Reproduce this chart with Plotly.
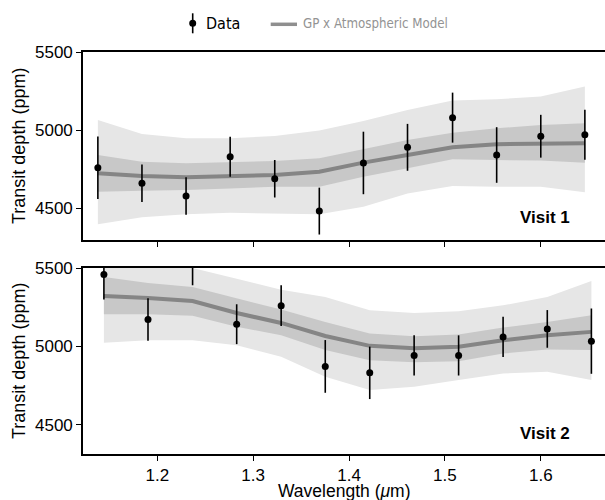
import plotly.graph_objects as go

# ---- Visit 1 data ----
wl1 = [1.138, 1.184, 1.230, 1.276, 1.3225, 1.369, 1.415, 1.461, 1.508, 1.554, 1.600, 1.646]
depth1 = [4760, 4660, 4578, 4830, 4689, 4482, 4790, 4890, 5080, 4841, 4961, 4971]
err1 = [200, 120, 120, 128, 120, 150, 200, 150, 160, 178, 137, 160]
model1 = [4724, 4706, 4698, 4704, 4713, 4734, 4792, 4841, 4890, 4910, 4916, 4916]
sig1_lo1 = [4606, 4612, 4617, 4627, 4638, 4638, 4702, 4756, 4813, 4809, 4805, 4792]
sig1_hi1 = [4841, 4798, 4788, 4794, 4803, 4820, 4877, 4937, 4984, 5012, 5033, 5044]
sig2_lo1 = [4397, 4442, 4461, 4471, 4467, 4461, 4510, 4595, 4642, 4638, 4638, 4602]
sig2_hi1 = [5065, 4976, 4948, 4948, 4963, 4997, 5059, 5129, 5189, 5198, 5215, 5279]

# ---- Visit 2 data ----
wl2 = [1.1443, 1.1903, 1.2368, 1.2828, 1.3292, 1.3752, 1.4216, 1.4679, 1.5143, 1.5607, 1.6068, 1.6528]
depth2 = [5459, 5172, 5560, 5142, 5260, 4873, 4832, 4943, 4943, 5061, 5112, 5034]
err2 = [160, 135, 170, 127, 130, 168, 167, 128, 128, 128, 120, 208]
model2 = [5321, 5309, 5290, 5213, 5150, 5067, 5004, 4989, 4998, 5040, 5072, 5093]
sig1_lo2 = [5205, 5205, 5195, 5125, 5072, 4977, 4913, 4900, 4906, 4955, 4981, 4977]
sig1_hi2 = [5442, 5404, 5379, 5305, 5235, 5156, 5083, 5065, 5076, 5121, 5156, 5199]
sig2_lo2 = [5023, 5040, 5040, 5008, 4934, 4807, 4722, 4743, 4786, 4828, 4839, 4786]
sig2_hi2 = [5510, 5505, 5500, 5432, 5362, 5315, 5231, 5213, 5224, 5262, 5315, 5417]

y_ticks = [4500, 5000, 5500]
x_ticks = [1.2, 1.3, 1.4, 1.5, 1.6]
x_tick_labels = ["1.2", "1.3", "1.4", "1.5", "1.6"]

LIGHT = "#e6e6e6"
DARK = "#c8c8c8"
LINE = "#858585"
FONT = "Liberation Sans, Arial, sans-serif"
NARROW = "Liberation Sans Narrow, DejaVu Sans Condensed, Roboto, sans-serif"

W, H = 605, 500
ML, MR = 83, 0
PW = W - ML - MR


def px(xp):
    return (xp - ML) / PW


def py(yp):
    return 1 - yp / H


fig = go.Figure()


def add_panel(wl, depth, err, model, s1lo, s1hi, s2lo, s2hi, xa, ya):
    fig.add_trace(go.Scatter(x=wl + wl[::-1], y=s2hi + s2lo[::-1], fill="toself",
                             fillcolor=LIGHT, line=dict(width=0), mode="lines",
                             hoverinfo="skip", showlegend=False, xaxis=xa, yaxis=ya))
    fig.add_trace(go.Scatter(x=wl + wl[::-1], y=s1hi + s1lo[::-1], fill="toself",
                             fillcolor=DARK, line=dict(width=0), mode="lines",
                             hoverinfo="skip", showlegend=False, xaxis=xa, yaxis=ya))
    fig.add_trace(go.Scatter(x=wl, y=model, mode="lines", line=dict(color=LINE, width=4),
                             showlegend=False, xaxis=xa, yaxis=ya))
    fig.add_trace(go.Scatter(x=wl, y=depth, mode="markers",
                             marker=dict(color="black", size=7),
                             error_y=dict(type="data", array=err, color="black",
                                          thickness=1.6, width=0),
                             showlegend=False, xaxis=xa, yaxis=ya))


add_panel(wl1, depth1, err1, model1, sig1_lo1, sig1_hi1, sig2_lo1, sig2_hi1, "x", "y")
add_panel(wl2, depth2, err2, model2, sig1_lo2, sig1_hi2, sig2_lo2, sig2_hi2, "x2", "y2")

xr = [1.1225, 1.667]
axis_common = dict(showline=True, linecolor="black", linewidth=1.6, ticks="outside",
                   ticklen=5, tickwidth=1.4, tickcolor="black", showgrid=False,
                   zeroline=False, automargin=False,
                   tickfont=dict(family=FONT, size=17, color="black"))

fig.update_layout(
    template="none",
    width=W, height=H,
    margin=dict(l=ML, r=MR, t=0, b=0, pad=0, autoexpand=False),
    plot_bgcolor="white", paper_bgcolor="white",
    showlegend=False,
    xaxis=dict(domain=[0, 1], range=xr, anchor="y", tickvals=x_ticks,
               showticklabels=False, mirror=True, **axis_common),
    yaxis=dict(domain=[py(240), py(52)], range=[4297, 5500], anchor="x",
               tickvals=y_ticks, **axis_common),
    xaxis2=dict(domain=[0, 1], range=xr, anchor="y2", tickvals=x_ticks,
                ticktext=x_tick_labels, mirror=True, **axis_common),
    yaxis2=dict(domain=[py(454), py(268)], range=[4315, 5500], anchor="x2",
                tickvals=y_ticks, **axis_common),
)

ann = [
    dict(text="Transit depth (ppm)", x=px(19), y=py(146), textangle=-90, size=18),
    dict(text="Transit depth (ppm)", x=px(19), y=py(361), textangle=-90, size=18),
    dict(text="Wavelength (<i>μ</i>m)", x=px(344), y=py(490.5), textangle=0, size=17.5),
]
for a in ann:
    fig.add_annotation(xref="paper", yref="paper", showarrow=False,
                       font=dict(family=FONT, size=a["size"], color="black"),
                       xanchor="center", yanchor="middle", text=a["text"],
                       x=a["x"], y=a["y"], textangle=a["textangle"])

for txt, yy in [("Visit 1", 217.7), ("Visit 2", 433.3)]:
    fig.add_annotation(xref="paper", yref="paper", showarrow=False, text="<b>%s</b>" % txt,
                       x=px(545), y=py(yy), xanchor="center", yanchor="middle",
                       font=dict(family=FONT, size=17, color="black"))

# ---- manual legend ----
fig.add_shape(type="line", xref="paper", yref="paper", x0=px(192.7), x1=px(192.7),
              y0=py(13.3), y1=py(33.3), line=dict(color="black", width=1.6))
fig.add_shape(type="circle", xref="paper", yref="paper", x0=px(189.2), x1=px(196.2),
              y0=py(26.8), y1=py(19.8), fillcolor="black", line=dict(width=0))
fig.add_annotation(xref="paper", yref="paper", showarrow=False, text="Data",
                   x=px(204), y=py(23.5), xanchor="left", yanchor="middle",
                   font=dict(family=NARROW, size=16, color="black"))
fig.add_shape(type="line", xref="paper", yref="paper", x0=px(270.7), x1=px(297),
              y0=py(24.3), y1=py(24.3), line=dict(color="#8f8f8f", width=3.5))
fig.add_annotation(xref="paper", yref="paper", showarrow=False, text="GP x Atmospheric Model",
                   x=px(301), y=py(23.5), xanchor="left", yanchor="middle",
                   font=dict(family=NARROW, size=13.2, color="#939393"))

fig.write_html("out.html", config={"displayModeBar": False},
               post_script="document.body.style.margin='0';")
